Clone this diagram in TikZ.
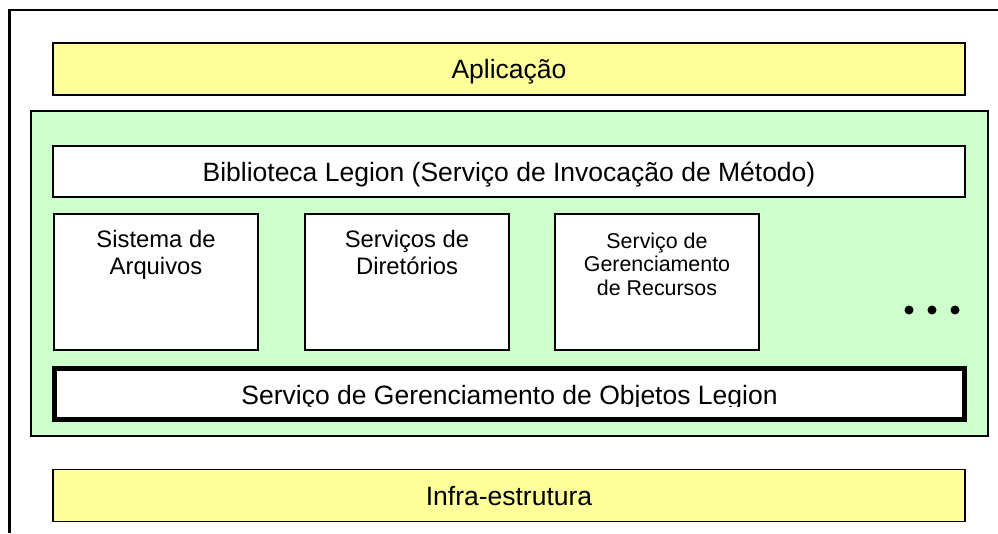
\documentclass[tikz,border=0pt]{standalone}
\usepackage{fontspec}
\setmainfont{Liberation Sans}
\usepackage{xcolor}
\usetikzlibrary{positioning}
\definecolor{layeryellow}{HTML}{FFFF99}
\definecolor{coregreen}{HTML}{CCFFCC}

\begin{document}
\begin{tikzpicture}[x=1pt,y=-1pt,
    layer/.style={draw, line width=1.5pt, fill=layeryellow, minimum width=912pt, minimum height=52pt,
        inner sep=0pt, text height=19pt, text depth=0pt, font=\fontsize{26.5}{30}\selectfont},
    libbox/.style={layer, fill=white, minimum height=51pt},
    module/.style={draw, line width=1.3pt, fill=white, minimum width=204pt, minimum height=136pt, inner sep=0pt},
    modtext/.style={align=center, inner sep=0pt, font=\fontsize{23.8}{26.5}\selectfont},
    modsmall/.style={modtext, font=\fontsize{21.4}{23.5}\selectfont},
    dot/.style={circle, fill=black, inner sep=0pt, minimum size=9pt}]
    \useasboundingbox (0,0) rectangle (998,533);
    % Frame (runs off the page right and below)
    \draw[line width=2.2pt] (9.5,533) -- (9.5,10) -- (998,10);
    %
    \node[layer] (app) at (509,69) {Aplicação};
    %
    \node[draw, line width=1.5pt, fill=coregreen, minimum width=957pt, minimum height=325pt] (core) at (509.5,273.5) {};
    \node[libbox] (lib) at (509,171.5) {Biblioteca Legion (Serviço de Invocação de Método)};
    %
    \node[module] (files) at (156,282) {};
    \node[modtext, below=17pt of files.north] (filestext) {Sistema de\\Arquivos};
    \node[module] (dirs) at (407,282) {};
    \node[modtext, below=17pt of dirs.north] (dirstext) {Serviços de\\Diretórios};
    \node[module] (res) at (657,282) {};
    \node[modsmall, below=19pt of res.north] (restext) {Serviço de\\Gerenciamento\\de Recursos};
    \foreach \i/\x in {1/909,2/932,3/955}
        \node[dot] (dot\i) at (\x,310) {};
    %
    \node[draw, line width=5pt, fill=white, minimum width=910pt, minimum height=51pt] (objmgr) at (509.5,393.5) {};
    \begin{scope}
        \clip (57,370) rectangle (962,406);
        \node[anchor=base, inner sep=0pt, font=\fontsize{26.5}{30}\selectfont] (objtext) at (509.5,404.5)
            {Serviço de Gerenciamento de Objetos Legion};
    \end{scope}
    %
    \node[layer] (infra) at (509,495.5) {Infra-estrutura};
\end{tikzpicture}
\end{document}
